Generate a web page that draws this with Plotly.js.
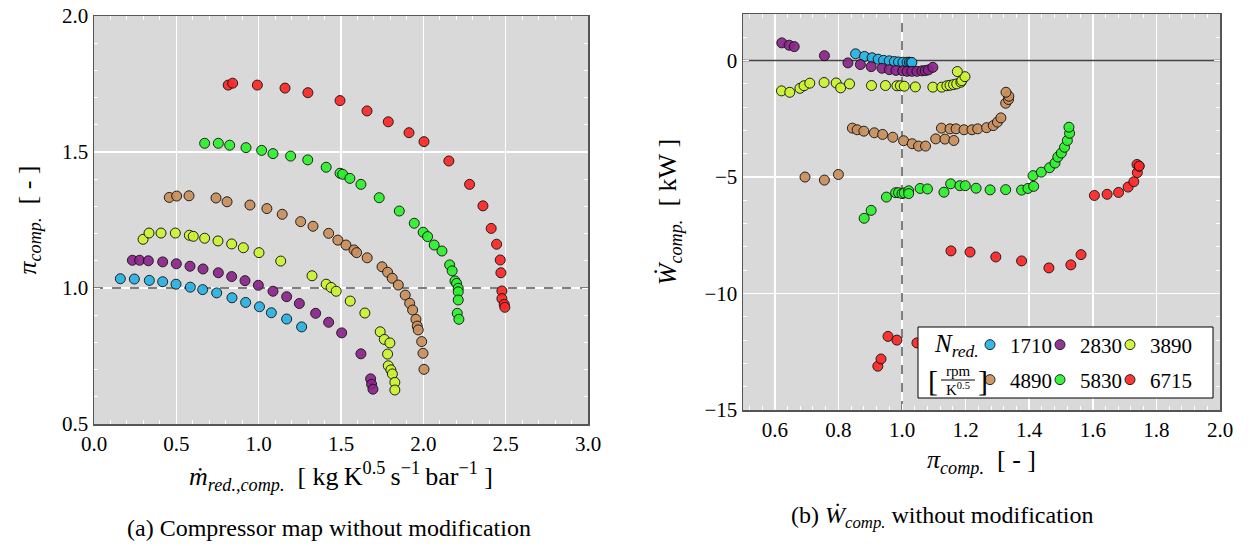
<!DOCTYPE html>
<html>
<head>
<meta charset="utf-8">
<script src="https://cdn.plot.ly/plotly-3.0.1.min.js"></script>
<style>html,body{margin:0;padding:0;background:#fff;}#chart{width:1250px;height:546px;}</style>
</head>
<body>
<div id="chart"></div>
<script>
// ---------- DATA ----------
const speedLabels = ['1710', '2830', '3890', '4890', '5830', '6715'];
const speedColors = ['#27b3e6', '#8c238c', '#cbf52e', '#c98f5c', '#2cf22c', '#ff2626'];

// (a) compressor map: reduced mass flow vs pressure ratio
const mFlow1710 = [0.160,0.245,0.336,0.417,0.498,0.585,0.660,0.745,0.838,0.921,1.005,1.077,1.170,1.261];
const pi1710    = [1.034,1.033,1.028,1.023,1.014,1.003,0.994,0.982,0.964,0.947,0.931,0.909,0.886,0.857];
const mFlow2830 = [0.233,0.277,0.330,0.417,0.500,0.583,0.662,0.755,0.836,0.917,0.998,1.087,1.170,1.247,1.346,1.425,1.504,1.621,1.680,1.686,1.694];
const pi2830    = [1.102,1.102,1.100,1.096,1.089,1.080,1.070,1.056,1.042,1.027,1.010,0.988,0.968,0.943,0.907,0.874,0.835,0.758,0.666,0.646,0.628];
const mFlow3890 = [0.298,0.334,0.407,0.494,0.579,0.603,0.672,0.753,0.836,0.907,1.002,1.134,1.324,1.410,1.440,1.471,1.556,1.645,1.738,1.763,1.797,1.783,1.787,1.803,1.812,1.827,1.827];
const pi3890    = [1.179,1.202,1.202,1.202,1.194,1.190,1.183,1.173,1.162,1.148,1.130,1.099,1.045,1.014,1.002,0.988,0.952,0.908,0.839,0.811,0.798,0.757,0.714,0.699,0.684,0.653,0.625];
const mFlow4890 = [0.457,0.502,0.577,0.741,0.808,0.947,1.050,1.143,1.255,1.330,1.425,1.481,1.530,1.579,1.595,1.659,1.749,1.783,1.811,1.848,1.890,1.917,1.935,1.955,1.963,1.969,1.990,1.998,2.004];
const pi4890    = [1.333,1.338,1.339,1.331,1.317,1.305,1.292,1.271,1.244,1.227,1.201,1.176,1.158,1.140,1.130,1.111,1.078,1.058,1.036,1.011,0.974,0.944,0.919,0.885,0.860,0.846,0.803,0.760,0.701];
const mFlow5830 = [0.672,0.755,0.824,0.923,1.018,1.087,1.194,1.298,1.410,1.494,1.510,1.554,1.621,1.732,1.854,1.945,1.999,2.026,2.066,2.113,2.160,2.175,2.192,2.202,2.212,2.212,2.212,2.206,2.216];
const pi5830    = [1.532,1.532,1.525,1.516,1.506,1.494,1.485,1.471,1.444,1.422,1.418,1.403,1.381,1.332,1.283,1.238,1.205,1.189,1.158,1.136,1.085,1.063,1.026,1.017,0.999,0.986,0.956,0.907,0.885];
const mFlow6715 = [0.815,0.842,0.992,1.160,1.299,1.494,1.658,1.787,1.913,2.004,2.155,2.281,2.362,2.412,2.445,2.467,2.471,2.477,2.477,2.491,2.495];
const pi6715    = [1.746,1.753,1.746,1.735,1.718,1.689,1.651,1.611,1.571,1.538,1.467,1.381,1.302,1.219,1.161,1.103,1.056,0.989,0.961,0.940,0.929];

// (b) compressor power vs pressure ratio
const piW1710 = [0.854,0.882,0.906,0.925,0.942,0.960,0.976,0.989,1.003,1.016,1.023,1.028,1.031];
const W1710   = [0.29,0.18,0.12,0.06,0.01,-0.01,-0.04,-0.06,-0.07,-0.07,-0.07,-0.08,-0.08];
const piW2830 = [0.622,0.645,0.661,0.756,0.830,0.869,0.903,0.937,0.960,0.981,1.002,1.016,1.031,1.047,1.063,1.073,1.083,1.097];
const W2830   = [0.76,0.66,0.60,0.21,-0.10,-0.17,-0.26,-0.33,-0.39,-0.42,-0.44,-0.46,-0.46,-0.46,-0.44,-0.43,-0.40,-0.29];
const piW3890 = [0.621,0.647,0.679,0.692,0.710,0.755,0.793,0.807,0.835,0.904,0.948,0.984,0.995,1.007,1.042,1.097,1.125,1.141,1.151,1.162,1.172,1.185,1.188,1.198,1.174];
const W3890   = [-1.30,-1.36,-1.19,-1.08,-0.97,-0.94,-0.96,-1.17,-1.00,-1.07,-1.07,-1.08,-1.08,-1.10,-1.13,-1.14,-1.14,-1.08,-1.06,-1.03,-1.00,-0.93,-0.86,-0.69,-0.47];
const piW4890 = [0.695,0.756,0.800,0.844,0.859,0.880,0.913,0.939,0.971,1.005,1.032,1.052,1.074,1.106,1.135,1.163,1.124,1.151,1.170,1.195,1.220,1.238,1.266,1.287,1.300,1.311,1.326,1.335,1.336,1.327];
const W4890   = [-5.00,-5.13,-4.89,-2.90,-2.97,-3.03,-3.10,-3.17,-3.29,-3.44,-3.57,-3.67,-3.67,-3.36,-3.37,-3.43,-2.90,-2.93,-2.93,-2.97,-2.97,-2.93,-2.88,-2.79,-2.64,-2.46,-1.83,-1.67,-1.53,-1.36];
const piW5830 = [0.881,0.903,0.951,0.980,0.989,1.000,1.007,1.021,1.021,1.057,1.080,1.132,1.153,1.182,1.199,1.233,1.277,1.326,1.376,1.396,1.414,1.412,1.438,1.464,1.481,1.490,1.501,1.511,1.520,1.527,1.525];
const W5830   = [-6.77,-6.43,-5.86,-5.67,-5.67,-5.71,-5.68,-5.59,-5.71,-5.49,-5.51,-5.65,-5.29,-5.37,-5.37,-5.48,-5.55,-5.54,-5.56,-5.49,-5.40,-4.94,-4.79,-4.60,-4.40,-4.14,-3.97,-3.72,-3.43,-3.12,-2.86];
const piW6715 = [0.924,0.934,0.956,0.984,1.047,1.154,1.214,1.295,1.376,1.462,1.531,1.563,1.605,1.645,1.681,1.711,1.729,1.740,1.745,1.739,1.746];
const W6715   = [-13.12,-12.81,-11.84,-12.00,-12.12,-8.17,-8.22,-8.43,-8.60,-8.90,-8.77,-8.33,-5.79,-5.74,-5.66,-5.43,-5.20,-4.81,-4.53,-4.46,-4.53];

const refPi = 1.0;   // reference pressure ratio line
const refW = 0.0;    // zero power line

// ---------- BUILD ----------
const mFlows = [mFlow1710, mFlow2830, mFlow3890, mFlow4890, mFlow5830, mFlow6715];
const pis    = [pi1710, pi2830, pi3890, pi4890, pi5830, pi6715];
const piWs   = [piW1710, piW2830, piW3890, piW4890, piW5830, piW6715];
const Ws     = [W1710, W2830, W3890, W4890, W5830, W6715];

const FONT = '"Liberation Serif", "Times New Roman", serif';
const W_PX = 1250, H_PX = 546;
const px = v => v / W_PX;
const py = v => 1 - v / H_PX;

const legendIds = ['legend', 'legend2', 'legend3', 'legend4', 'legend5', 'legend6'];
const traces = [];
speedLabels.forEach((lab, i) => {
  const mk = {color: speedColors[i], size: 10, opacity: 0.92, line: {color: '#111', width: 1}};
  traces.push({x: mFlows[i], y: pis[i], xaxis: 'x', yaxis: 'y', type: 'scatter', mode: 'markers',
               name: lab, legend: legendIds[i], marker: mk, hoverinfo: 'skip'});
});
speedLabels.forEach((lab, i) => {
  const mk = {color: speedColors[i], size: 10, opacity: 0.92, line: {color: '#111', width: 1}};
  traces.push({x: piWs[i], y: Ws[i], xaxis: 'x2', yaxis: 'y2', type: 'scatter', mode: 'markers',
               name: lab, showlegend: false, marker: mk, hoverinfo: 'skip'});
});

function axisBase(extra) {
  return Object.assign({
    showgrid: true, gridcolor: '#ffffff', gridwidth: 1.5,
    zeroline: false, showline: true, linecolor: '#555', linewidth: 1.5, mirror: 'ticks',
    ticks: 'inside', ticklen: 6, tickcolor: '#ffffff', tickwidth: 1,
    tickfont: {family: FONT, size: 21, color: '#000'},
    fixedrange: true, automargin: false
  }, extra);
}

const titleFont = {family: FONT, size: 26, color: '#000'};
const EN = '\u2002', NB = '\u00a0', TH = '\u2009';
const piTitle = '<i>π</i><sub><i>comp.</i></sub>' + EN + '[' + NB + '-' + NB + ']';

// legend entries: one small legend per entry, laid out as two rows of three
const legendMarkerX = [992, 1062, 1132, 992, 1062, 1132];
const legendRowY    = [345, 345, 345, 380, 380, 380];
function legendCfg(i) {
  return {orientation: 'h', x: px(legendMarkerX[i] - 22), y: py(legendRowY[i]), xanchor: 'left', yanchor: 'middle',
    bgcolor: 'rgba(0,0,0,0)', borderwidth: 0, font: {family: FONT, size: 21, color: '#000'},
    itemsizing: 'trace', itemwidth: 30, itemclick: false, itemdoubleclick: false};
}

const layout = {
  width: W_PX, height: H_PX,
  margin: {l: 0, r: 0, t: 0, b: 0, autoexpand: false},
  paper_bgcolor: '#ffffff', plot_bgcolor: '#d9d9d9',
  showlegend: true,
  font: {family: FONT, color: '#000'},
  xaxis: axisBase({domain: [px(94), px(588)], anchor: 'y', range: [0, 3], dtick: 0.5, tick0: 0, tickformat: '.1f',
    minor: {dtick: 0.1, ticks: 'inside', ticklen: 4, tickcolor: '#ffffff', showgrid: false},
    title: {text: '<i>ṁ</i><sub><i>red.,comp.</i></sub>' + EN + '[' + NB + 'kg' + TH + 'K<sup>0.5</sup>' + TH + 's<sup>−1</sup>' + TH + 'bar<sup>−1</sup>' + NB + ']',
            font: titleFont, standoff: 12}}),
  yaxis: axisBase({domain: [py(424), py(16)], anchor: 'x', range: [0.5, 2.0], dtick: 0.5, tick0: 0, tickformat: '.1f',
    minor: {dtick: 0.1, ticks: 'inside', ticklen: 4, tickcolor: '#ffffff', showgrid: false},
    title: {text: piTitle, font: titleFont, standoff: 18}}),
  xaxis2: axisBase({domain: [px(743), px(1220)], anchor: 'y2', range: [0.5, 2.0], dtick: 0.2, tick0: 0, tickformat: '.1f',
    minor: {dtick: 0.04, ticks: 'inside', ticklen: 4, tickcolor: '#ffffff', showgrid: false},
    title: {text: piTitle, font: titleFont, standoff: 9}}),
  yaxis2: axisBase({domain: [py(410), py(14)], anchor: 'x2', range: [-15, 2], dtick: 5, tick0: 0,
    minor: {dtick: 1, ticks: 'inside', ticklen: 4, tickcolor: '#ffffff', showgrid: false},
    title: {text: '<i>Ẇ</i><sub><i>comp.</i></sub>' + EN + '[' + NB + 'kW' + NB + ']', font: titleFont, standoff: 20}}),
  shapes: [
    {type: 'line', xref: 'x', yref: 'y', x0: 0, x1: 3, y0: refPi, y1: refPi, layer: 'between',
     line: {color: '#555', width: 1.5, dash: 'dash'}},
    {type: 'line', xref: 'x2', yref: 'y2', x0: 0.5, x1: 2.0, y0: refW, y1: refW, layer: 'between',
     line: {color: '#444', width: 1.5}},
    {type: 'line', xref: 'x2', yref: 'y2', x0: refPi, x1: refPi, y0: -15, y1: 2, layer: 'between',
     line: {color: '#555', width: 1.5, dash: 'dash'}},
    {type: 'rect', xref: 'paper', yref: 'paper', x0: px(918), x1: px(1213), y0: py(398), y1: py(327), layer: 'above',
     fillcolor: '#ffffff', line: {color: '#000', width: 1}},
    {type: 'line', xref: 'paper', yref: 'paper', x0: px(941), x1: px(975), y0: py(380), y1: py(380), layer: 'above',
     line: {color: '#000', width: 1}}
  ],
  annotations: [
    {xref: 'paper', yref: 'paper', x: px(329), y: py(528), text: '(a) Compressor map without modification',
     showarrow: false, font: {family: FONT, size: 24, color: '#000'}, xanchor: 'center', yanchor: 'middle'},
    {xref: 'paper', yref: 'paper', x: px(942), y: py(517), text: '(b) <i>Ẇ</i><sub><i>comp.</i></sub> without modification',
     showarrow: false, font: {family: FONT, size: 24, color: '#000'}, xanchor: 'center', yanchor: 'middle'},
    {xref: 'paper', yref: 'paper', x: px(957), y: py(345), text: '<i>N</i><sub><i>red.</i></sub>',
     showarrow: false, font: {family: FONT, size: 25, color: '#000'}, xanchor: 'center', yanchor: 'middle'},
    {xref: 'paper', yref: 'paper', x: px(933), y: py(380), text: '[',
     showarrow: false, font: {family: FONT, size: 30, color: '#000'}, xanchor: 'center', yanchor: 'middle'},
    {xref: 'paper', yref: 'paper', x: px(983), y: py(380), text: ']',
     showarrow: false, font: {family: FONT, size: 30, color: '#000'}, xanchor: 'center', yanchor: 'middle'},
    {xref: 'paper', yref: 'paper', x: px(958), y: py(371), text: 'rpm',
     showarrow: false, font: {family: FONT, size: 15, color: '#000'}, xanchor: 'center', yanchor: 'middle'},
    {xref: 'paper', yref: 'paper', x: px(958), y: py(389), text: 'K<sup>0.5</sup>',
     showarrow: false, font: {family: FONT, size: 15, color: '#000'}, xanchor: 'center', yanchor: 'middle'}
  ]
};
legendIds.forEach((id, i) => { layout[id] = legendCfg(i); });

Plotly.newPlot('chart', traces, layout, {displayModeBar: false, staticPlot: true});
</script>
</body>
</html>
